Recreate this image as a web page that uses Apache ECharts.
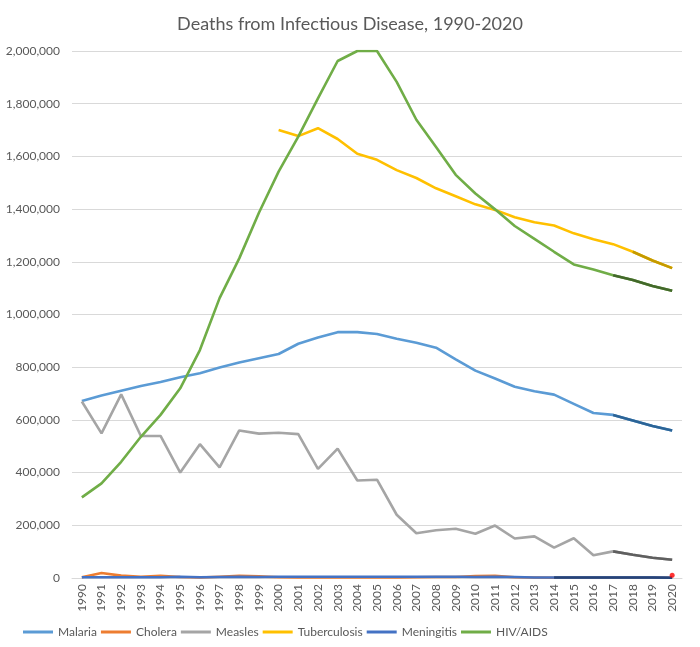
<!DOCTYPE html>
<html>
<head>
<meta charset="utf-8">
<script src="https://cdn.jsdelivr.net/npm/echarts@6/dist/echarts.min.js"></script>
<style>
html,body{margin:0;padding:0;background:#fff;}
#chart{width:700px;height:647px;}
</style>
</head>
<body>
<div id="chart"></div>
<script>
const years = ['1990','1991','1992','1993','1994','1995','1996','1997','1998','1999','2000','2001','2002','2003','2004','2005','2006','2007','2008','2009','2010','2011','2012','2013','2014','2015','2016','2017','2018','2019','2020'];
const yTicks = [0, 200000, 400000, 600000, 800000, 1000000, 1200000, 1400000, 1600000, 1800000, 2000000];

const malaria = [672000,693000,711000,729000,744000,762000,777000,799000,818000,834000,850000,889000,913000,933000,933000,926000,908000,893000,874000,830000,787000,757000,726000,709000,696000,661000,626000,619000,598000,577000,560000];
const cholera = [3000,19000,9000,5000,8000,4000,2000,5000,8000,6000,3000,2000,2000,2000,2000,2000,2000,3000,4000,4000,7000,8000,3000,2000,1000,1000,1000,1000,1000,1000,1000];
const measles = [670000,549000,697000,539000,539000,400000,508000,420000,560000,548000,551000,546000,414000,491000,370000,373000,240000,170000,181000,187000,168000,199000,150000,158000,115000,151000,86000,101000,88000,77000,69000];
const tuberculosis = [null,null,null,null,null,null,null,null,null,null,1700000,1677000,1707000,1666000,1610000,1587000,1548000,1518000,1479000,1449000,1418000,1397000,1369000,1350000,1338000,1308000,1286000,1267000,1238000,1205000,1176000];
const meningitis = [3000,3000,3000,3000,3000,5000,3000,4000,5000,4000,5000,5000,5000,5000,5000,5000,5000,5000,5000,5000,4000,5000,4000,2000,2000,2000,2000,2000,2000,2000,1000];
const hiv = [306000,359000,441000,536000,619000,720000,865000,1062000,1213000,1386000,1542000,1675000,1820000,1962000,2000000,2000000,1883000,1739000,1636000,1530000,1459000,1399000,1336000,1287000,1238000,1190000,1171000,1149000,1131000,1108000,1090000];
const redDot = [['2020', 10000]];

const names = ['Malaria','Cholera','Measles','Tuberculosis','Meningitis','HIV/AIDS'];
const colors = ['#5B9BD5','#ED7D31','#A5A5A5','#FFC000','#4472C4','#70AD47'];
const darkColors = {'Malaria':'#2C6496','Measles':'#5f5f5f','Tuberculosis':'#C49A00','Meningitis':'#264478','HIV/AIDS':'#43682B'};
const darkStart = {'Malaria':'2017','Measles':'2017','Tuberculosis':'2018','Meningitis':'2014','HIV/AIDS':'2017'};
const dataMap = {'Malaria':malaria,'Cholera':cholera,'Measles':measles,'Tuberculosis':tuberculosis,'Meningitis':meningitis,'HIV/AIDS':hiv};

const series = names.map((n,i)=>({
  name:n, type:'line', data:dataMap[n], symbol:'none', showSymbol:false,
  lineStyle:{width:2.6,color:colors[i]}, itemStyle:{color:colors[i]}, z:2+i
}));
Object.keys(darkStart).forEach(n=>{
  const s = years.indexOf(darkStart[n]);
  series.push({
    name:n+' (recent)', type:'line', symbol:'none', showSymbol:false,
    data:dataMap[n].map((v,j)=> j>=s ? v : null),
    lineStyle:{width:2.6,color:darkColors[n]}, itemStyle:{color:darkColors[n]}, z:10
  });
});
series.push({name:'point', type:'scatter', data:redDot, symbolSize:5, itemStyle:{color:'#FF0000'}, z:12});

const chart = echarts.init(document.getElementById('chart'));
chart.setOption({
  animation:false,
  backgroundColor:'#ffffff',
  textStyle:{fontFamily:'Lato'},
  title:{text:'Deaths from Infectious Disease, 1990-2020', left:'center', top:10,
    textStyle:{fontFamily:'Lato', fontSize:18, fontWeight:'normal', color:'#595959'}},
  legend:{data:names, left:18, bottom:4, icon:'rect', itemWidth:30, itemHeight:3, itemGap:4,
    textStyle:{fontFamily:'Lato', fontSize:12, color:'#595959', width:62, overflow:'none'}},
  grid:{left:72, right:18, top:51, bottom:69},
  xAxis:{type:'category', data:years, boundaryGap:true,
    axisLine:{lineStyle:{color:'#d9d9d9'}}, axisTick:{show:false},
    axisLabel:{rotate:90, color:'#595959', fontSize:12, fontFamily:'Lato', interval:0, margin:6}},
  yAxis:{type:'value', min:0, max:2000000, interval:200000,
    axisLine:{show:false}, axisTick:{show:false},
    splitLine:{lineStyle:{color:'#d9d9d9'}},
    axisLabel:{color:'#595959', fontSize:12, fontFamily:'Lato', margin:12,
      formatter:v=>yTicks.includes(v)? v.toLocaleString('en-US') : ''}},
  series:series
});
</script>
</body>
</html>
